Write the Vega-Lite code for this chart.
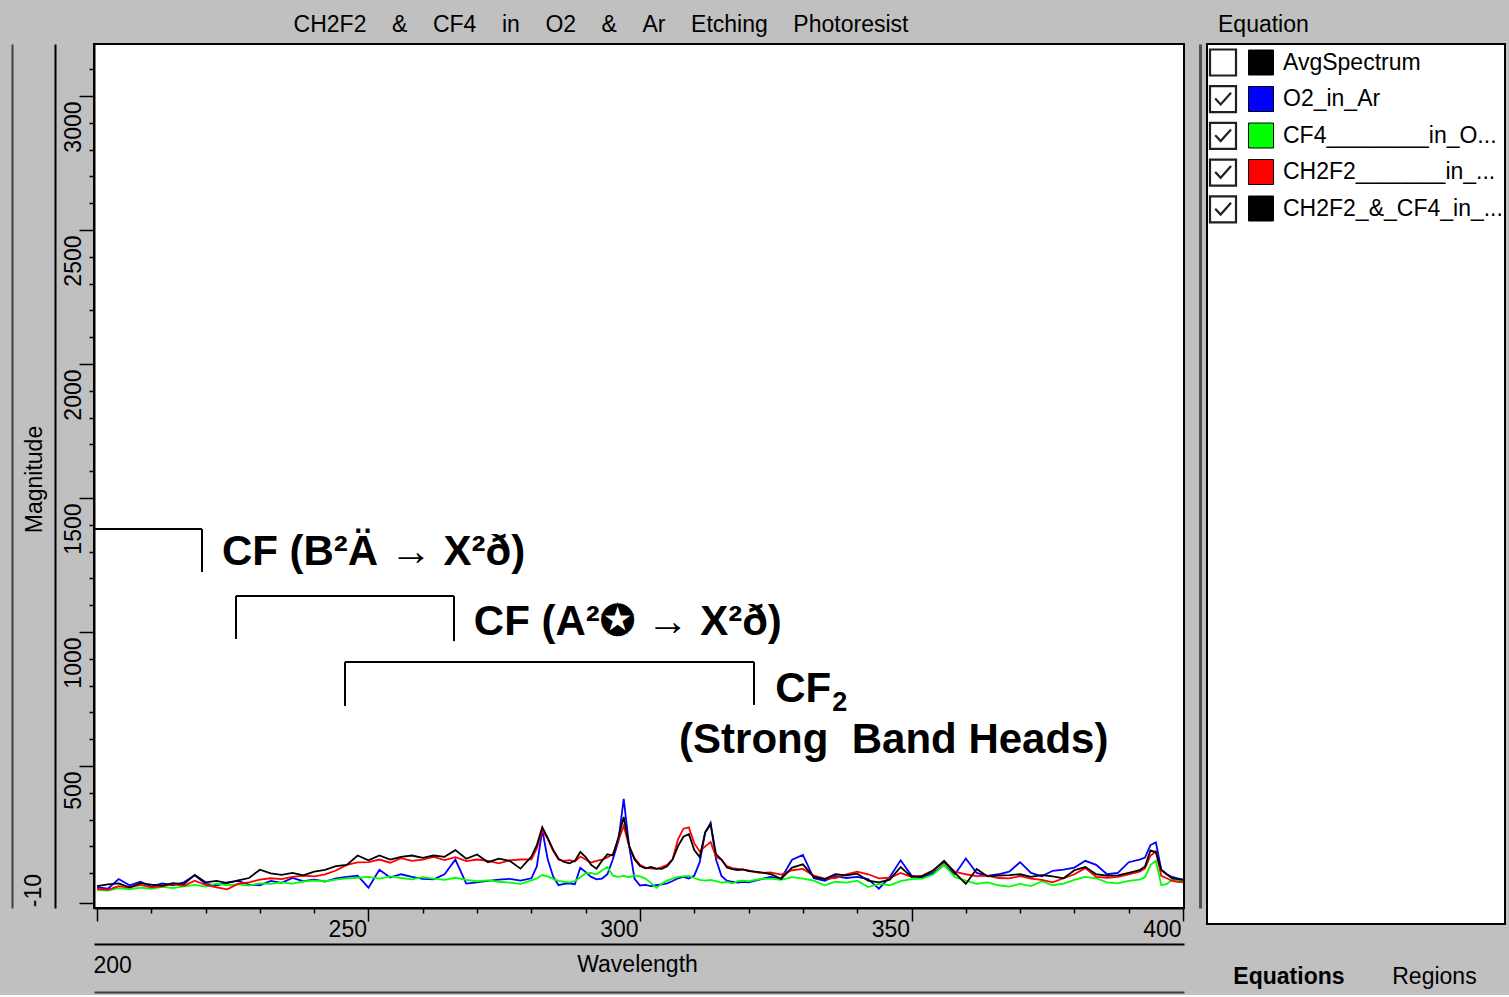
{
  "$schema": "https://vega.github.io/schema/vega-lite/v6.json",
  "background": "#c0c0c0",
  "padding": {"left": 11, "top": 13, "right": 3, "bottom": 2},
  "spacing": 5,
  "resolve": {"scale": {"color": "independent", "stroke": "independent"}},
  "datasets": {
    "spectra": [
      {"w":200,"O2":48,"CF4":38,"CH2F2":42,"Mix":52},
      {"w":202,"O2":42,"CF4":35,"CH2F2":38,"Mix":58},
      {"w":204,"O2":78,"CF4":44,"CH2F2":52,"Mix":62},
      {"w":206,"O2":55,"CF4":40,"CH2F2":46,"Mix":47},
      {"w":208,"O2":68,"CF4":46,"CH2F2":56,"Mix":63},
      {"w":210,"O2":50,"CF4":42,"CH2F2":47,"Mix":57},
      {"w":212,"O2":62,"CF4":49,"CH2F2":51,"Mix":54},
      {"w":214,"O2":55,"CF4":44,"CH2F2":59,"Mix":63},
      {"w":216,"O2":66,"CF4":51,"CH2F2":53,"Mix":59},
      {"w":218,"O2":92,"CF4":56,"CH2F2":72,"Mix":94},
      {"w":220,"O2":60,"CF4":50,"CH2F2":56,"Mix":66},
      {"w":222,"O2":54,"CF4":61,"CH2F2":47,"Mix":71},
      {"w":224,"O2":66,"CF4":55,"CH2F2":40,"Mix":63},
      {"w":226,"O2":71,"CF4":58,"CH2F2":61,"Mix":73},
      {"w":228,"O2":57,"CF4":54,"CH2F2":66,"Mix":82},
      {"w":230,"O2":55,"CF4":62,"CH2F2":76,"Mix":113},
      {"w":232,"O2":71,"CF4":60,"CH2F2":81,"Mix":99},
      {"w":234,"O2":64,"CF4":66,"CH2F2":78,"Mix":94},
      {"w":236,"O2":82,"CF4":61,"CH2F2":86,"Mix":101},
      {"w":238,"O2":70,"CF4":69,"CH2F2":91,"Mix":92},
      {"w":240,"O2":76,"CF4":72,"CH2F2":88,"Mix":106},
      {"w":242,"O2":69,"CF4":70,"CH2F2":96,"Mix":112},
      {"w":244,"O2":81,"CF4":76,"CH2F2":110,"Mix":126},
      {"w":246,"O2":86,"CF4":81,"CH2F2":131,"Mix":131},
      {"w":248,"O2":91,"CF4":83,"CH2F2":140,"Mix":166},
      {"w":250,"O2":46,"CF4":86,"CH2F2":141,"Mix":148},
      {"w":252,"O2":113,"CF4":80,"CH2F2":151,"Mix":166},
      {"w":254,"O2":84,"CF4":88,"CH2F2":139,"Mix":151},
      {"w":256,"O2":96,"CF4":82,"CH2F2":156,"Mix":161},
      {"w":258,"O2":86,"CF4":77,"CH2F2":146,"Mix":166},
      {"w":260,"O2":79,"CF4":85,"CH2F2":151,"Mix":157},
      {"w":262,"O2":77,"CF4":80,"CH2F2":161,"Mix":166},
      {"w":264,"O2":96,"CF4":75,"CH2F2":149,"Mix":161},
      {"w":266,"O2":151,"CF4":83,"CH2F2":160,"Mix":186},
      {"w":268,"O2":61,"CF4":75,"CH2F2":145,"Mix":154},
      {"w":270,"O2":66,"CF4":70,"CH2F2":151,"Mix":170},
      {"w":272,"O2":71,"CF4":73,"CH2F2":146,"Mix":141},
      {"w":274,"O2":76,"CF4":68,"CH2F2":137,"Mix":154},
      {"w":276,"O2":79,"CF4":65,"CH2F2":148,"Mix":146},
      {"w":278,"O2":72,"CF4":60,"CH2F2":151,"Mix":117},
      {"w":280,"O2":81,"CF4":73,"CH2F2":152,"Mix":162},
      {"w":281,"O2":125,"CF4":80,"CH2F2":192,"Mix":205},
      {"w":282,"O2":262,"CF4":93,"CH2F2":260,"Mix":272},
      {"w":283,"O2":152,"CF4":88,"CH2F2":228,"Mix":232},
      {"w":284,"O2":88,"CF4":79,"CH2F2":183,"Mix":188},
      {"w":285,"O2":55,"CF4":71,"CH2F2":150,"Mix":154},
      {"w":286,"O2":60,"CF4":68,"CH2F2":146,"Mix":142},
      {"w":287,"O2":62,"CF4":66,"CH2F2":149,"Mix":137},
      {"w":288,"O2":59,"CF4":70,"CH2F2":144,"Mix":146},
      {"w":289,"O2":120,"CF4":85,"CH2F2":162,"Mix":179},
      {"w":290,"O2":104,"CF4":99,"CH2F2":151,"Mix":160},
      {"w":291,"O2":86,"CF4":101,"CH2F2":140,"Mix":131},
      {"w":292,"O2":77,"CF4":96,"CH2F2":146,"Mix":117},
      {"w":293,"O2":80,"CF4":110,"CH2F2":151,"Mix":146},
      {"w":294,"O2":96,"CF4":123,"CH2F2":159,"Mix":171},
      {"w":295,"O2":152,"CF4":91,"CH2F2":171,"Mix":166},
      {"w":296,"O2":218,"CF4":86,"CH2F2":221,"Mix":232},
      {"w":297,"O2":377,"CF4":90,"CH2F2":276,"Mix":310},
      {"w":298,"O2":201,"CF4":85,"CH2F2":201,"Mix":201},
      {"w":299,"O2":79,"CF4":92,"CH2F2":156,"Mix":151},
      {"w":300,"O2":54,"CF4":88,"CH2F2":131,"Mix":127},
      {"w":301,"O2":56,"CF4":80,"CH2F2":121,"Mix":118},
      {"w":302,"O2":52,"CF4":64,"CH2F2":118,"Mix":123},
      {"w":303,"O2":55,"CF4":45,"CH2F2":116,"Mix":117},
      {"w":304,"O2":58,"CF4":61,"CH2F2":123,"Mix":116},
      {"w":305,"O2":62,"CF4":72,"CH2F2":131,"Mix":126},
      {"w":306,"O2":71,"CF4":80,"CH2F2":152,"Mix":151},
      {"w":307,"O2":81,"CF4":86,"CH2F2":226,"Mix":201},
      {"w":308,"O2":86,"CF4":88,"CH2F2":266,"Mix":236},
      {"w":309,"O2":80,"CF4":90,"CH2F2":271,"Mix":246},
      {"w":310,"O2":91,"CF4":82,"CH2F2":211,"Mix":186},
      {"w":311,"O2":141,"CF4":75,"CH2F2":181,"Mix":160},
      {"w":312,"O2":252,"CF4":72,"CH2F2":200,"Mix":252},
      {"w":313,"O2":288,"CF4":75,"CH2F2":216,"Mix":282},
      {"w":314,"O2":151,"CF4":70,"CH2F2":161,"Mix":171},
      {"w":315,"O2":90,"CF4":65,"CH2F2":150,"Mix":151},
      {"w":316,"O2":72,"CF4":68,"CH2F2":126,"Mix":121},
      {"w":317,"O2":68,"CF4":62,"CH2F2":119,"Mix":115},
      {"w":318,"O2":65,"CF4":70,"CH2F2":116,"Mix":112},
      {"w":319,"O2":68,"CF4":72,"CH2F2":113,"Mix":114},
      {"w":320,"O2":66,"CF4":70,"CH2F2":110,"Mix":108},
      {"w":322,"O2":76,"CF4":78,"CH2F2":101,"Mix":104},
      {"w":324,"O2":86,"CF4":80,"CH2F2":103,"Mix":97},
      {"w":326,"O2":80,"CF4":75,"CH2F2":95,"Mix":79},
      {"w":328,"O2":150,"CF4":85,"CH2F2":111,"Mix":121},
      {"w":330,"O2":168,"CF4":80,"CH2F2":116,"Mix":133},
      {"w":332,"O2":81,"CF4":72,"CH2F2":91,"Mix":86},
      {"w":334,"O2":72,"CF4":55,"CH2F2":80,"Mix":78},
      {"w":336,"O2":89,"CF4":68,"CH2F2":82,"Mix":96},
      {"w":338,"O2":82,"CF4":65,"CH2F2":96,"Mix":92},
      {"w":340,"O2":86,"CF4":72,"CH2F2":106,"Mix":98},
      {"w":342,"O2":78,"CF4":48,"CH2F2":96,"Mix":72},
      {"w":344,"O2":42,"CF4":60,"CH2F2":81,"Mix":66},
      {"w":346,"O2":86,"CF4":55,"CH2F2":83,"Mix":76},
      {"w":348,"O2":148,"CF4":70,"CH2F2":101,"Mix":123},
      {"w":350,"O2":91,"CF4":78,"CH2F2":86,"Mix":86},
      {"w":352,"O2":83,"CF4":80,"CH2F2":91,"Mix":88},
      {"w":354,"O2":101,"CF4":95,"CH2F2":111,"Mix":110},
      {"w":356,"O2":131,"CF4":131,"CH2F2":141,"Mix":146},
      {"w":358,"O2":96,"CF4":85,"CH2F2":106,"Mix":101},
      {"w":360,"O2":155,"CF4":72,"CH2F2":96,"Mix":60},
      {"w":362,"O2":101,"CF4":60,"CH2F2":89,"Mix":116},
      {"w":364,"O2":90,"CF4":66,"CH2F2":91,"Mix":88},
      {"w":366,"O2":96,"CF4":55,"CH2F2":82,"Mix":91},
      {"w":368,"O2":106,"CF4":50,"CH2F2":81,"Mix":93},
      {"w":370,"O2":141,"CF4":60,"CH2F2":89,"Mix":96},
      {"w":372,"O2":101,"CF4":52,"CH2F2":80,"Mix":86},
      {"w":374,"O2":88,"CF4":70,"CH2F2":75,"Mix":93},
      {"w":376,"O2":109,"CF4":55,"CH2F2":66,"Mix":88},
      {"w":378,"O2":113,"CF4":61,"CH2F2":81,"Mix":81},
      {"w":380,"O2":121,"CF4":75,"CH2F2":96,"Mix":111},
      {"w":382,"O2":146,"CF4":86,"CH2F2":119,"Mix":123},
      {"w":384,"O2":131,"CF4":81,"CH2F2":86,"Mix":96},
      {"w":386,"O2":96,"CF4":66,"CH2F2":83,"Mix":91},
      {"w":388,"O2":101,"CF4":62,"CH2F2":86,"Mix":92},
      {"w":390,"O2":141,"CF4":71,"CH2F2":96,"Mix":101},
      {"w":392,"O2":151,"CF4":76,"CH2F2":106,"Mix":111},
      {"w":393,"O2":158,"CF4":85,"CH2F2":118,"Mix":125},
      {"w":394,"O2":205,"CF4":130,"CH2F2":165,"Mix":185},
      {"w":395,"O2":215,"CF4":146,"CH2F2":182,"Mix":178},
      {"w":396,"O2":112,"CF4":55,"CH2F2":90,"Mix":112},
      {"w":397,"O2":96,"CF4":60,"CH2F2":81,"Mix":96},
      {"w":398,"O2":86,"CF4":75,"CH2F2":71,"Mix":81},
      {"w":399,"O2":81,"CF4":72,"CH2F2":68,"Mix":78},
      {"w":400,"O2":76,"CF4":70,"CH2F2":66,"Mix":75}
    ],
    "brackets": [
      {"x1":199.5,"x2":219.34,"y1":1384,"y2":1384},
      {"x1":219.34,"x2":219.34,"y1":1384,"y2":1224},
      {"x1":225.6,"x2":265.75,"y1":1134,"y2":1134},
      {"x1":225.6,"x2":225.6,"y1":1134,"y2":974},
      {"x1":265.75,"x2":265.75,"y1":1134,"y2":966},
      {"x1":245.67,"x2":320.99,"y1":888,"y2":888},
      {"x1":245.67,"x2":245.67,"y1":888,"y2":724},
      {"x1":320.99,"x2":320.99,"y1":888,"y2":728}
    ],
    "labels": [
      {"x":223.0,"y":1250,"t":"CF (B\u00b2\u00c4 \u2192 X\u00b2\u00f0)"},
      {"x":269.4,"y":989,"t":"CF (A\u00b2\u272a \u2192 X\u00b2\u00f0)"},
      {"x":324.9,"y":739,"t":"CF"},
      {"x":307.2,"y":549,"t":"(Strong\u00a0\u00a0Band Heads)"}
    ],
    "sub": [
      {"x":335.4,"y":705,"t":"2"}
    ],
    "items": [
      {"series":"AvgSpectrum","check":"off:AvgSpectrum"},
      {"series":"O2_in_Ar","check":"on:O2_in_Ar"},
      {"series":"CF4________in_O...","check":"on:CF4________in_O..."},
      {"series":"CH2F2_______in_...","check":"on:CH2F2_______in_..."},
      {"series":"CH2F2_&_CF4_in_...","check":"on:CH2F2_&_CF4_in_..."}
    ],
    "tabs": [
      {"tab":"Equations"},
      {"tab":"Regions"}
    ]
  },
  "hconcat": [
    {
      "width": 1090,
      "height": 864,
      "title": {
        "text": "CH2F2\u00a0\u00a0\u00a0\u00a0&\u00a0\u00a0\u00a0\u00a0CF4\u00a0\u00a0\u00a0\u00a0in\u00a0\u00a0\u00a0\u00a0O2\u00a0\u00a0\u00a0\u00a0&\u00a0\u00a0\u00a0\u00a0Ar\u00a0\u00a0\u00a0\u00a0Etching\u00a0\u00a0\u00a0\u00a0Photoresist",
        "anchor": "middle",
        "frame": "bounds",
        "offset": -11,
        "dx": -5,
        "font": "Liberation Sans",
        "fontSize": 23,
        "fontWeight": "normal",
        "color": "black",
        "baseline": "alphabetic"
      },
      "layer": [
        {
          "data": {"name": "spectra"},
          "transform": [{"fold": ["O2", "CF4", "CH2F2", "Mix"], "as": ["series", "value"]}],
          "mark": {"type": "line", "strokeWidth": 1.8},
          "encoding": {
            "x": {
              "field": "w", "type": "quantitative",
              "scale": {"domain": [199.45, 400.18], "nice": false, "zero": false},
              "axis": {
                "orient": "bottom", "offset": 0,
                "values": [200,210,220,230,240,250,260,270,280,290,300,310,320,330,340,350,360,370,380,390,400],
                "format": "d",
                "labelExpr": "datum.value % 50 === 0 && datum.value > 200 ? datum.label : ''",
                "tickSize": {"condition": {"test": "datum.value % 50 === 0", "value": 13}, "value": 5},
                "tickWidth": 1.5, "tickColor": "black",
                "domainColor": "black", "domainWidth": 2,
                "labelAngle": 0, "labelAlign": "right", "labelBaseline": "alphabetic",
                "labelPadding": 15, "labelOffset": -2,
                "labelFlush": false, "labelOverlap": false,
                "title": null, "grid": false
              }
            },
            "y": {
              "field": "value", "type": "quantitative",
              "scale": {"domain": [-29.9, 3194], "nice": false, "zero": false},
              "axis": {
                "orient": "left", "offset": 0,
                "values": [-10,100,200,300,400,500,600,700,800,900,1000,1100,1200,1300,1400,1500,1600,1700,1800,1900,2000,2100,2200,2300,2400,2500,2600,2700,2800,2900,3000,3100],
                "format": "d",
                "labelExpr": "datum.value % 500 === 0 ? datum.label : ''",
                "tickSize": {"condition": {"test": "datum.value % 500 === 0 || datum.value === -10", "value": 15}, "value": 5},
                "tickWidth": 1.5, "tickColor": "black",
                "domainColor": "black", "domainWidth": 2,
                "labelAngle": 270, "labelAlign": "right", "labelBaseline": "alphabetic",
                "labelPadding": -1, "labelOffset": 5,
                "labelFlush": false, "labelOverlap": false,
                "title": null, "grid": false
              }
            },
            "color": {
              "field": "series", "type": "nominal",
              "scale": {"domain": ["O2", "CF4", "CH2F2", "Mix"], "range": ["#0000ff", "#00ff00", "#ff0000", "#000000"]},
              "legend": null
            }
          }
        },
        {
          "data": {"name": "brackets"},
          "mark": {"type": "rule", "color": "black", "strokeWidth": 2},
          "encoding": {
            "x": {
              "field": "x1", "type": "quantitative",
              "scale": {"domain": [199.45, 400.18], "nice": false, "zero": false},
              "axis": {
                "orient": "bottom", "offset": 36, "values": [200],
                "labelExpr": "'200'", "ticks": false, "tickSize": 0,
                "domainColor": "black", "domainWidth": 2,
                "labelAngle": 0, "labelAlign": "left", "labelBaseline": "alphabetic",
                "labelPadding": 28, "labelOffset": -4,
                "labelFlush": false, "labelOverlap": false, "grid": false,
                "title": "Wavelength", "titleX": 543, "titleY": 27,
                "titleAlign": "center", "titleBaseline": "alphabetic", "titleAngle": 0
              }
            },
            "x2": {"field": "x2"},
            "y": {
              "field": "y1", "type": "quantitative",
              "scale": {"domain": [-29.9, 3194], "nice": false, "zero": false},
              "axis": {
                "orient": "left", "offset": 39, "values": [-10],
                "labelExpr": "'-10'", "ticks": false, "tickSize": 0,
                "domainColor": "black", "domainWidth": 2,
                "labelAngle": 270, "labelAlign": "left", "labelBaseline": "alphabetic",
                "labelPadding": 15, "labelOffset": 4,
                "labelFlush": false, "labelOverlap": false, "grid": false,
                "title": "Magnitude", "titleX": -14, "titleY": 435,
                "titleAngle": 270, "titleAlign": "center", "titleBaseline": "alphabetic"
              }
            },
            "y2": {"field": "y2"}
          }
        },
        {
          "data": {"name": "labels"},
          "mark": {"type": "text", "font": "Liberation Sans", "fontWeight": "bold", "fontSize": 42, "align": "left", "baseline": "alphabetic", "color": "black"},
          "encoding": {
            "x": {
              "field": "x", "type": "quantitative",
              "scale": {"domain": [199.45, 400.18], "nice": false, "zero": false},
              "axis": {"orient": "bottom", "offset": 84, "labels": false, "ticks": false, "domainColor": "#404040", "domainWidth": 2, "title": null, "grid": false}
            },
            "y": {
              "field": "y", "type": "quantitative",
              "scale": {"domain": [-29.9, 3194], "nice": false, "zero": false},
              "axis": {"orient": "left", "offset": 82, "labels": false, "ticks": false, "domainColor": "#404040", "domainWidth": 2, "title": null, "grid": false}
            },
            "text": {"field": "t"}
          }
        },
        {
          "data": {"name": "sub"},
          "mark": {"type": "text", "font": "Liberation Sans", "fontWeight": "bold", "fontSize": 27, "align": "left", "baseline": "alphabetic", "color": "black"},
          "encoding": {
            "x": {
              "field": "x", "type": "quantitative",
              "scale": {"domain": [199.45, 400.18], "nice": false, "zero": false},
              "axis": null
            },
            "y": {
              "field": "y", "type": "quantitative",
              "scale": {"domain": [-29.9, 3194], "nice": false, "zero": false},
              "axis": {"orient": "right", "offset": 16, "labels": false, "ticks": false, "domainColor": "#505050", "domainWidth": 3, "title": null, "grid": false}
            },
            "text": {"field": "t"}
          }
        }
      ],
      "resolve": {"axis": {"x": "independent", "y": "independent"}}
    },
    {
      "width": 298,
      "height": 880,
      "title": {
        "text": "Equation",
        "anchor": "start",
        "frame": "group",
        "dx": 11,
        "offset": -11,
        "font": "Liberation Sans",
        "fontSize": 23,
        "fontWeight": "normal",
        "color": "black",
        "baseline": "alphabetic"
      },
      "layer": [
        {
          "data": {"name": "items"},
          "mark": {"type": "text", "text": ""},
          "encoding": {
            "color": {
              "field": "series", "type": "nominal",
              "scale": {
                "domain": ["AvgSpectrum", "O2_in_Ar", "CF4________in_O...", "CH2F2_______in_...", "CH2F2_&_CF4_in_..."],
                "range": ["#000000", "#0000ff", "#00ff00", "#ff0000", "#000000"]
              },
              "legend": {
                "orient": "none", "legendX": 41, "legendY": 5.5, "direction": "vertical",
                "title": null, "symbolType": "square", "symbolSize": 625,
                "symbolStrokeColor": "black", "symbolStrokeWidth": 1, "symbolOpacity": 1,
                "labelFont": "Liberation Sans", "labelFontSize": 23, "labelColor": "black",
                "labelOffset": 9, "labelLimit": 400, "rowPadding": 6.5, "padding": 0
              }
            },
            "stroke": {
              "field": "check", "type": "nominal",
              "scale": {
                "domain": ["off:AvgSpectrum", "on:O2_in_Ar", "on:CF4________in_O...", "on:CH2F2_______in_...", "on:CH2F2_&_CF4_in_..."],
                "range": ["#202020", "#202020", "#202020", "#202020", "#202020"]
              },
              "legend": {
                "orient": "none", "legendX": 1.5, "legendY": 4, "direction": "vertical",
                "title": null, "symbolSize": 676, "symbolStrokeWidth": 2.2,
                "symbolFillColor": "white", "symbolOpacity": 1,
                "labelExpr": "''", "rowPadding": 1.7, "padding": 0,
                "encode": {
                  "symbols": {
                    "update": {
                      "shape": {"signal": "datum.value === 'off:AvgSpectrum' ? 'M-1,-1H1V1H-1Z' : 'M-1,-1H1V1H-1Z M-0.6,-0.05L-0.18,0.4L0.62,-0.5'"}
                    }
                  }
                }
              }
            }
          }
        },
        {
          "data": {"name": "tabs"},
          "mark": {"type": "text", "text": ""},
          "encoding": {
            "x": {
              "field": "tab", "type": "nominal",
              "scale": {"type": "point", "padding": 0.524, "align": 0.534},
              "axis": {
                "orient": "bottom", "domain": false, "ticks": false, "grid": false,
                "labelAngle": 0, "labelPadding": 59, "labelBaseline": "alphabetic",
                "labelFontWeight": {"condition": {"test": "datum.value === 'Equations'", "value": "bold"}, "value": "normal"},
                "labelOverlap": false, "title": null
              }
            }
          }
        }
      ]
    }
  ],
  "config": {
    "view": {"stroke": "black", "strokeWidth": 2, "fill": "white"},
    "axis": {
      "domainColor": "black", "tickColor": "black", "labelColor": "black", "titleColor": "black",
      "labelFont": "Liberation Sans", "titleFont": "Liberation Sans",
      "labelFontSize": 23, "titleFontSize": 23, "titleFontWeight": "normal",
      "grid": false, "minExtent": 0
    },
    "legend": {"labelFont": "Liberation Sans"},
    "title": {"font": "Liberation Sans"}
  }
}
